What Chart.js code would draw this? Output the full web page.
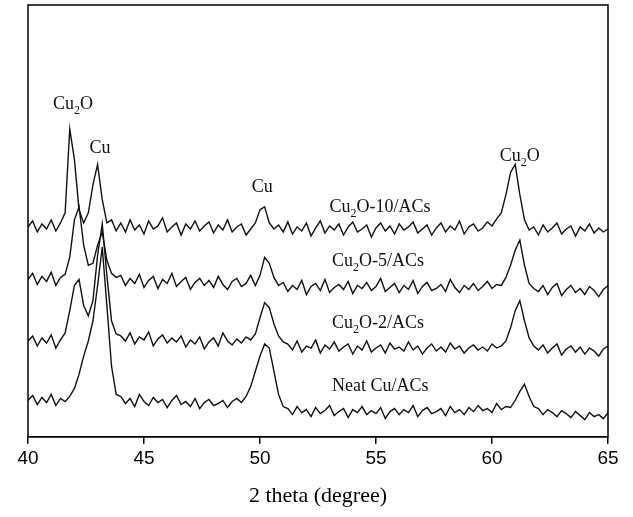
<!DOCTYPE html>
<html><head><meta charset="utf-8">
<script src="https://cdn.jsdelivr.net/npm/chart.js@4"></script>
<style>html,body{margin:0;padding:0;background:#fff}#w{width:633px;height:517px}</style>
</head><body><div id="w"><canvas id="c"></canvas></div>
<script>
const xStart = 40, xStep = 0.2;
const xTicks = [40,45,50,55,60,65];
const seriesNames = ["Cu2O-10/ACs","Cu2O-5/ACs","Cu2O-2/ACs","Neat Cu/ACs"];
const cu2o10 = [208,214,203,211,206,215,204,212,
222,305,275,225,212,222,250,270,235,212,215,204,
212,203,215,205,210,201,214,206,209,217,203,208,212,200,211,206,214,204,209,213,202,210,205,215,203,208,211,200,206,212,
225,228,212,206,
210,203,213,201,208,204,212,199,207,214,202,209,205,211,200,208,213,203,206,210,198,207,212,204,209,201,211,205,208,213,202,206,210,200,207,212,203,209,205,214,201,208,211,204,207,213,209,216,
222,240,262,270,240,215,205,
208,200,210,203,207,212,201,206,209,199,208,204,211,202,207,203,206];
const cu2o5 = [156,162,151,159,154,163,150,158,161,
178,215,228,190,170,172,190,203,175,162,158,
160,150,157,152,161,148,155,159,147,156,152,162,149,154,158,146,153,157,150,155,148,159,151,146,154,157,149,152,160,150,
160,178,172,158,150,
153,144,150,146,155,141,149,152,145,156,143,148,151,146,154,142,150,147,153,145,149,157,144,148,152,143,150,146,155,142,149,153,145,147,151,144,156,148,143,150,146,152,145,149,154,147,151,150,
158,170,185,195,170,152,147,
144,150,141,148,152,140,146,150,143,147,141,149,145,139,146,150];
const cu2o2 = [95,100,90,98,93,101,88,96,
103,125,150,156,130,120,135,180,211,160,115,102,
100,95,103,92,99,96,104,90,97,101,93,98,94,100,89,96,92,99,87,94,98,90,103,95,91,97,93,99,96,102,
118,133,128,112,100,94,
92,86,95,84,90,88,96,83,91,87,94,85,89,92,82,90,86,95,84,88,91,83,93,87,89,85,94,86,90,82,88,92,85,89,84,93,87,90,83,88,91,86,89,85,92,88,90,
95,108,125,135,115,98,90,
86,91,83,88,92,81,87,90,84,89,82,88,85,80,87,90];
const neatCu = [36,41,32,39,34,42,31,38,35,
40,48,62,80,95,115,150,188,130,70,42,
40,33,38,30,42,35,31,39,34,37,29,36,41,32,35,30,38,28,34,37,31,33,36,29,35,38,34,40,
50,65,80,92,88,65,42,30,
28,22,30,24,27,20,29,23,26,31,21,25,28,19,27,24,30,22,26,23,29,18,25,28,22,27,24,31,20,26,29,23,25,28,21,30,24,27,22,29,25,31,26,28,24,33,27,30,29,
36,45,52,40,30,
28,22,27,24,20,26,23,19,25,21,17,24,20,22,18,24];
// peak labels: [x, y, main, sub, rest]
const peakLabels = [[41.94,325,"Cu","2","O"],[43.1,281,"Cu","",""],[50.1,243,"Cu","",""],[61.2,273,"Cu","2","O"]];
const seriesLabels = [[53.0,223,"Cu","2","O-10/ACs"],[53.1,169,"Cu","2","O-5/ACs"],[53.1,108,"Cu","2","O-2/ACs"],[53.1,45,"Neat Cu/ACs","",""]];

const all = [cu2o10,cu2o5,cu2o2,neatCu];
const datasets = all.map((arr,k)=>({label:seriesNames[k],data:arr.map((v,i)=>({x:+(xStart+i*xStep).toFixed(2),y:v})),
  borderColor:'#111',borderWidth:1.4,pointRadius:0,tension:0,fill:false}));

function drawLab(ctx,x,y,a,s,r,align){
  ctx.font='18px "Liberation Serif"';
  const wa=ctx.measureText(a).width, wr=ctx.measureText(r).width;
  ctx.font='12px "Liberation Serif"'; const ws=ctx.measureText(s).width;
  const tot=wa+ws+wr; let x0 = align==='center'? x-tot/2 : x;
  ctx.fillStyle='#111'; ctx.textBaseline='alphabetic'; ctx.textAlign='left';
  ctx.font='18px "Liberation Serif"'; ctx.fillText(a,x0,y);
  ctx.font='12px "Liberation Serif"'; ctx.fillText(s,x0+wa,y+5);
  ctx.font='18px "Liberation Serif"'; ctx.fillText(r,x0+wa+ws,y);
}
const deco={id:'deco',afterDatasetsDraw(ch){
  const {ctx,chartArea:a,scales:{x,y}}=ch;
  ctx.save(); ctx.strokeStyle='#000'; ctx.lineWidth=1.5; ctx.strokeRect(a.left,a.top,a.right-a.left,a.bottom-a.top);
  peakLabels.forEach(l=>drawLab(ctx,x.getPixelForValue(l[0]),y.getPixelForValue(l[1]),l[2],l[3],l[4],'center'));
  seriesLabels.forEach(l=>drawLab(ctx,x.getPixelForValue(l[0]),y.getPixelForValue(l[1]),l[2],l[3],l[4],'left'));
  ctx.restore();
}};
new Chart(document.getElementById('c'),{type:'line',data:{datasets},plugins:[deco],
 options:{responsive:true,maintainAspectRatio:false,animation:false,
  layout:{padding:{left:28,right:25,top:5,bottom:4}},
  plugins:{legend:{display:false},tooltip:{enabled:false}},
  scales:{
   x:{type:'linear',min:40,max:65,afterBuildTicks:s=>{s.ticks=xTicks.map(v=>({value:v}));},
     grid:{drawOnChartArea:false,color:'#000',tickLength:7,lineWidth:1.5},border:{color:'#000',width:1.5},
     ticks:{color:'#000',font:{family:'"Liberation Sans"',size:19},padding:4,maxRotation:0},
     title:{display:true,text:'2 theta (degree)',color:'#000',font:{family:'"Liberation Serif"',size:22},padding:{top:8}}},
   y:{display:false,min:0,max:428}
  }}});
</script></body></html>
